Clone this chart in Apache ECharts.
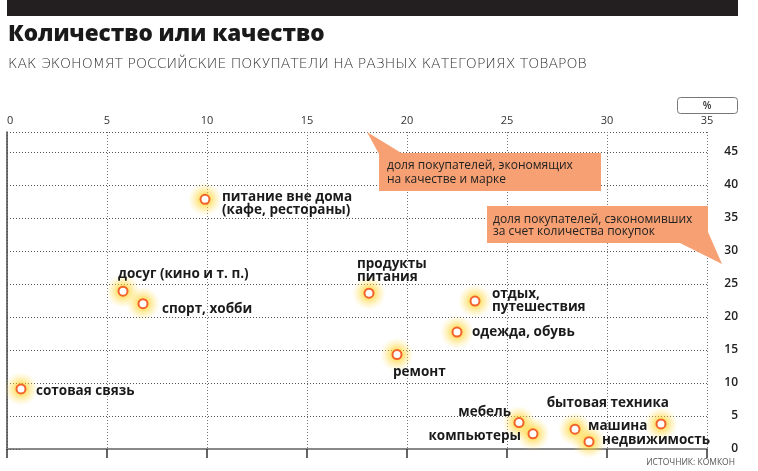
<!DOCTYPE html>
<html>
<head>
<meta charset="utf-8">
<script src="https://cdn.jsdelivr.net/npm/echarts@6/dist/echarts.min.js"></script>
<style>
html,body{margin:0;padding:0;background:#fff;}
#chart{width:758px;height:471px;}
</style>
</head>
<body>
<div id="chart"></div>
<script>
// ---- data ----
const categories = [
  'питание вне дома\n(кафе, рестораны)',
  'досуг (кино и т. п.)',
  'спорт, хобби',
  'продукты\nпитания',
  'отдых,\nпутешествия',
  'одежда, обувь',
  'ремонт',
  'сотовая связь',
  'мебель',
  'компьютеры',
  'машина',
  'недвижимость',
  'бытовая техника'
];
// share of buyers saving on quality and brand (x, %)
const qualityShare = [9.9, 5.8, 6.8, 18.1, 23.4, 22.5, 19.5, 0.7, 25.6, 26.3, 28.4, 29.1, 32.7];
// share of buyers saving on the quantity of purchases (y, %)
const quantityShare = [37.8, 23.9, 22.0, 23.6, 22.4, 17.7, 14.3, 9.1, 4.0, 2.3, 3.0, 1.1, 3.8];
const xTicks = {min: 0, max: 35, interval: 5};
const yTicks = {min: 0, max: 48, interval: 5};

// ---- label placement (styling, not data) ----
const labelLayout = [
  {dx: 17, dy: 4, align: 'left'},
  {dx: -5, dy: -17, align: 'left'},
  {dx: 19, dy: 5, align: 'left'},
  {dx: -12, dy: -22, align: 'left'},
  {dx: 17, dy: 0, align: 'left'},
  {dx: 15, dy: 0, align: 'left'},
  {dx: -4, dy: 18, align: 'left'},
  {dx: 15, dy: 2, align: 'left'},
  {dx: -8, dy: -10, align: 'right'},
  {dx: -12, dy: 2, align: 'right'},
  {dx: 13, dy: -3, align: 'left'},
  {dx: 13, dy: -2, align: 'left'},
  {dx: 8, dy: -21, align: 'right'}
];

const points = categories.map((name, i) => ({
  name: name,
  value: [qualityShare[i], quantityShare[i]],
  label: {
    show: true,
    position: 'inside',
    align: labelLayout[i].align,
    verticalAlign: 'middle',
    offset: [labelLayout[i].dx, labelLayout[i].dy]
  }
}));
const glowPoints = categories.map((name, i) => [qualityShare[i], quantityShare[i]]);

const chart = echarts.init(document.getElementById('chart'));
const orange = '#f7a073';
const labelFont = '"Open Sans", sans-serif';

chart.setOption({
  animation: false,
  backgroundColor: '#ffffff',
  grid: {left: 7, right: 51, top: 132, bottom: 22, containLabel: false},
  xAxis: [{
    type: 'value', position: 'top',
    min: xTicks.min, max: xTicks.max, interval: xTicks.interval,
    axisLine: {show: true, lineStyle: {color: '#333', width: 1}},
    axisTick: {show: true, inside: true, length: 9, lineStyle: {color: '#333', width: 1.5}},
    axisLabel: {show: true, margin: 6, color: '#333', fontSize: 11, fontFamily: labelFont, alignMinLabel: 'left'},
    splitLine: {show: true, lineStyle: {color: '#777', type: [1, 2], width: 1}}
  }, {
    type: 'value', position: 'bottom',
    min: xTicks.min, max: xTicks.max,
    axisLine: {show: true, lineStyle: {color: '#888', width: 2}},
    axisTick: {show: false}, axisLabel: {show: false}, splitLine: {show: false}
  }],
  yAxis: [{
    type: 'value', position: 'right',
    min: yTicks.min, max: yTicks.max, interval: yTicks.interval,
    axisLine: {show: false},
    axisTick: {show: true, length: 13, lineStyle: {color: '#555', type: [1, 2]}},
    axisLabel: {show: true, showMaxLabel: false, align: 'right', margin: 31, color: '#222', fontSize: 12, fontWeight: 600, fontFamily: labelFont},
    splitLine: {show: true, lineStyle: {color: '#555', type: [1, 2], width: 1}}
  }, {
    type: 'value', position: 'left',
    min: yTicks.min, max: yTicks.max,
    axisLine: {show: true, lineStyle: {color: '#444', width: 1.5}},
    axisTick: {show: false}, axisLabel: {show: false}, splitLine: {show: false}
  }],
  series: [{
    type: 'scatter',
    xAxisIndex: 0, yAxisIndex: 0,
    symbol: 'circle',
    symbolSize: 34,
    data: glowPoints,
    silent: true,
    itemStyle: {
      color: new echarts.graphic.RadialGradient(0.5, 0.5, 0.5, [
        {offset: 0, color: 'rgba(255, 200, 0, 0.95)'},
        {offset: 0.4, color: 'rgba(255, 210, 40, 0.55)'},
        {offset: 1, color: 'rgba(255, 230, 120, 0)'}
      ]),
      opacity: 1
    },
    emphasis: {disabled: true},
    z: 3
  }, {
    type: 'scatter',
    xAxisIndex: 0, yAxisIndex: 0,
    symbol: 'circle',
    symbolSize: 9,
    data: points,
    itemStyle: {
      color: '#ffffff', borderColor: '#f2622a', borderWidth: 2, opacity: 1
    },
    label: {
      formatter: '{b}', color: '#1a1a1a', fontSize: 13.5, fontWeight: 'bold',
      fontFamily: labelFont, lineHeight: 13
    },
    emphasis: {disabled: true},
    z: 5
  }],
  graphic: [
    {type: 'rect', shape: {x: 7, y: 0, width: 731, height: 16}, style: {fill: '#231f20'}},
    {type: 'text', style: {x: 8, y: 35, text: 'Количество или качество', font: '800 22.5px "Open Sans", sans-serif', fill: '#1a1a1a', verticalAlign: 'middle'}},
    {type: 'text', style: {x: 8, y: 64, text: 'КАК ЭКОНОМЯТ РОССИЙСКИЕ ПОКУПАТЕЛИ НА РАЗНЫХ КАТЕГОРИЯХ ТОВАРОВ', font: '300 14px "DejaVu Sans", sans-serif', fill: '#333', verticalAlign: 'middle'}},
    {type: 'rect', shape: {x: 677.5, y: 97.5, width: 60, height: 16, r: 3}, style: {fill: 'none', stroke: '#777', lineWidth: 1}},
    {type: 'text', style: {x: 707, y: 106, text: '%', font: '600 10px "Open Sans", sans-serif', fill: '#333', align: 'center', verticalAlign: 'middle'}},
    // callout 1
    {type: 'polygon', shape: {points: [[367, 132], [379, 154], [403, 154]]}, style: {fill: orange}, z: 10},
    {type: 'rect', shape: {x: 379, y: 153, width: 222, height: 38}, style: {fill: orange}, z: 10},
    {type: 'text', style: {x: 387, y: 172.5, text: 'доля покупателей, экономящих\nна качестве и марке', font: '12px "Open Sans", sans-serif', lineHeight: 14, fill: '#222', verticalAlign: 'middle'}, z: 11},
    // callout 2
    {type: 'polygon', shape: {points: [[680, 243], [708, 232], [722, 264]]}, style: {fill: orange}, z: 10},
    {type: 'rect', shape: {x: 487, y: 206, width: 221, height: 37}, style: {fill: orange}, z: 10},
    {type: 'text', style: {x: 493, y: 225.5, text: 'доля покупателей, сэкономивших\nза счет количества покупок', font: '12px "Open Sans", sans-serif', lineHeight: 12, fill: '#222', verticalAlign: 'middle'}, z: 11},
    {type: 'text', style: {x: 735, y: 463, text: 'ИСТОЧНИК: КОМКОН', font: '8.5px "Open Sans", sans-serif', fill: '#555', align: 'right', verticalAlign: 'middle'}}
  ]
});
</script>
</body>
</html>
